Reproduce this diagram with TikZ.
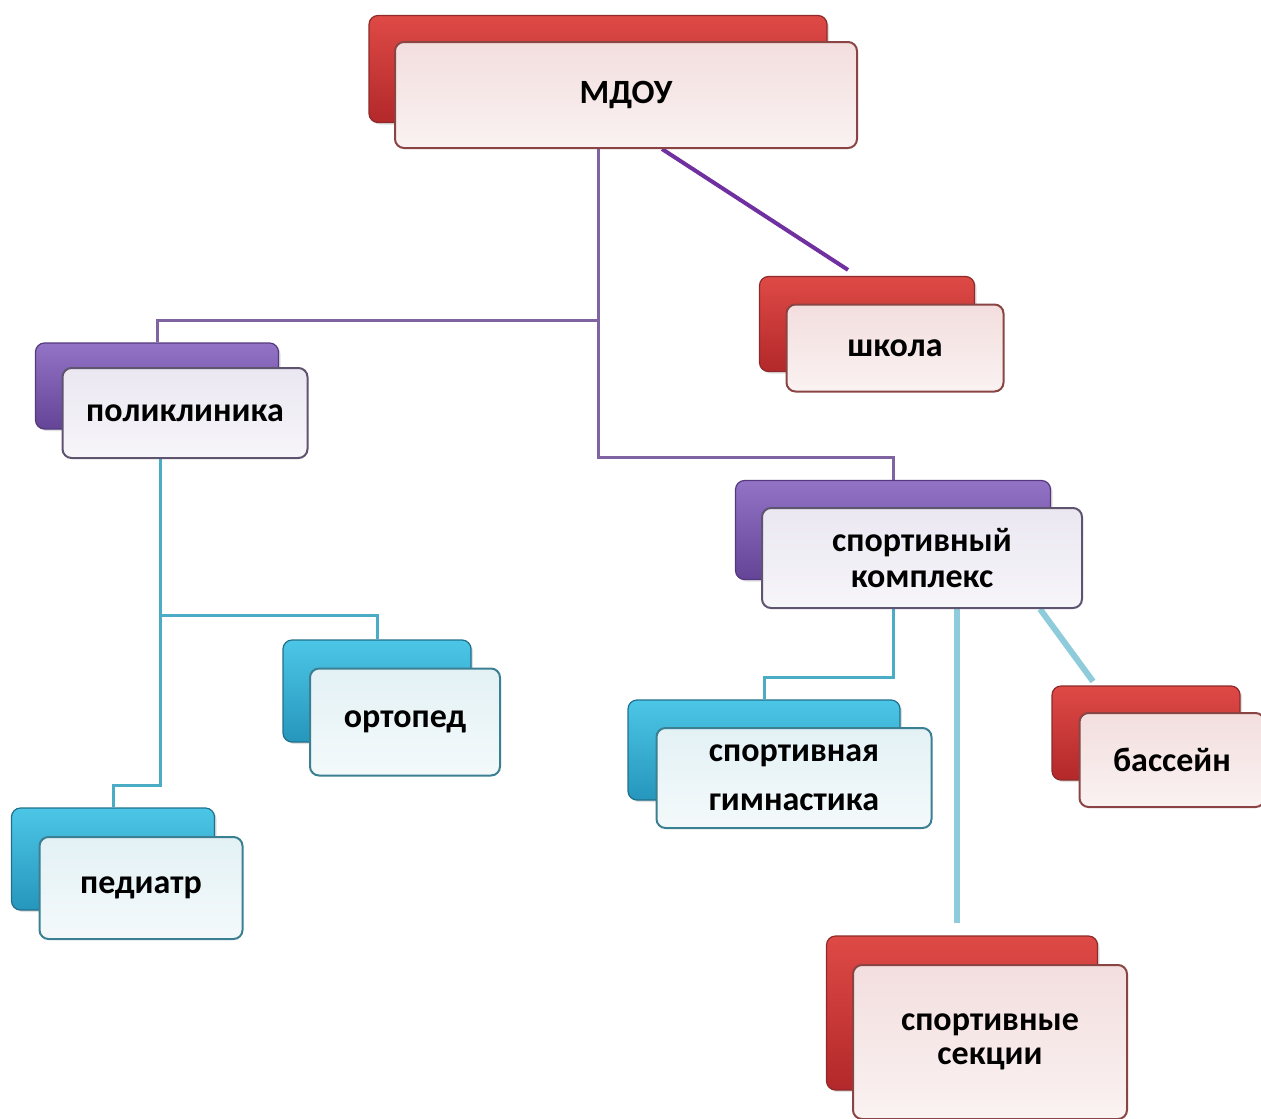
\documentclass[tikz,border=0pt]{standalone}
\usepackage{fontspec}
\setmainfont{Carlito}
\usetikzlibrary{shapes,backgrounds,shadows}

\definecolor{redtop}{HTML}{DE4A46}
\definecolor{redbot}{HTML}{B3282A}
\definecolor{redline}{HTML}{8E2A2A}
\definecolor{redfront}{HTML}{F3DEDE}
\definecolor{rededge}{HTML}{8A4444}
\definecolor{violtop}{HTML}{9373C6}
\definecolor{violbot}{HTML}{644496}
\definecolor{violline}{HTML}{54397F}
\definecolor{violfront}{HTML}{EAE7F1}
\definecolor{violedge}{HTML}{5E5470}
\definecolor{cyantop}{HTML}{4CC6E6}
\definecolor{cyanbot}{HTML}{2696BC}
\definecolor{cyanline}{HTML}{20708C}
\definecolor{cyanfront}{HTML}{E3F1F5}
\definecolor{cyanedge}{HTML}{3A7F92}
\definecolor{lavender}{HTML}{8064A2}
\definecolor{plum}{HTML}{7030A0}
\definecolor{teal}{HTML}{4BACC6}
\definecolor{skyline}{HTML}{8ECCDB}

\begin{document}
\begin{tikzpicture}[x=1pt,y=-1pt]
\tikzstyle{backbox}=[
	rectangle,
	rounded corners=9pt,
	inner sep=0pt,
	line width=1.2pt,
	drop shadow={shadow xshift=2pt,shadow yshift=-2pt,opacity=0.25} ]
\tikzstyle{frontbox}=[
	rectangle,
	rounded corners=9pt,
	inner sep=0pt,
	line width=2pt,
	align=center,
	font=\fontsize{34}{40}\selectfont\bfseries ]
\tikzstyle{redb}=[backbox, top color=redtop, bottom color=redbot, draw=redline]
\tikzstyle{violb}=[backbox, top color=violtop, bottom color=violbot, draw=violline]
\tikzstyle{cyanb}=[backbox, top color=cyantop, bottom color=cyanbot, draw=cyanline]
\tikzstyle{redf}=[frontbox, top color=redfront, bottom color=white!60!redfront, draw=rededge]
\tikzstyle{violf}=[frontbox, top color=violfront, bottom color=white!60!violfront, draw=violedge]
\tikzstyle{cyanf}=[frontbox, top color=cyanfront, bottom color=white!60!cyanfront, draw=cyanedge]
\tikzstyle{elbow}=[line width=3pt]

\useasboundingbox (0,0) rectangle (1261,1119);

% top
\node[redb, minimum width=458pt, minimum height=107pt] (mdou-b) at (598,69) {};
\node[redf, minimum width=462pt, minimum height=106pt] (mdou) at (626,95) {МДОУ};

% second row
\node[redb, minimum width=215pt, minimum height=95pt] (shkola-b) at (867,324) {};
\node[redf, minimum width=217pt, minimum height=87pt] (shkola) at (895,348) {школа};

\node[violb, minimum width=243pt, minimum height=86pt] (polikl-b) at (157,386) {};
\node[violf, minimum width=245pt, minimum height=90pt] (polikl) at (185,413) {поликлиника};

\node[violb, minimum width=315pt, minimum height=99pt] (sport-b) at (893,530) {};
\node[violf, minimum width=320pt, minimum height=100pt] (sport) at (922,558)
	{спортивный\\[-4pt]комплекс};

% leaves
\node[cyanb, minimum width=188pt, minimum height=102pt] (ortoped-b) at (377,691) {};
\node[cyanf, minimum width=190pt, minimum height=107pt] (ortoped) at (405,722) {ортопед};

\node[cyanb, minimum width=203pt, minimum height=102pt] (pediatr-b) at (113,859) {};
\node[cyanf, minimum width=203pt, minimum height=102pt] (pediatr) at (141,888) {педиатр};

\node[cyanb, minimum width=272pt, minimum height=100pt] (gimn-b) at (764,750) {};
\node[cyanf, minimum width=275pt, minimum height=100pt] (gimn) at (794,778)
	{спортивная\\[9pt]гимнастика};

\node[redb, minimum width=188pt, minimum height=94pt] (bassein-b) at (1146,733) {};
\node[redf, minimum width=185pt, minimum height=94pt] (bassein) at (1172,760) {бассейн};

\node[redb, minimum width=271pt, minimum height=154pt] (sekcii-b) at (962,1013) {};
\node[redf, minimum width=274pt, minimum height=154pt] (sekcii) at (990,1042)
	{спортивные\\[-6pt]секции};

\coordinate (j1) at (598,320);
\coordinate (j2) at (598,457);
\coordinate (k1) at (160,615);
\coordinate (k2) at (160,785);
\coordinate (m1) at (893,677);

\begin{scope}[on background layer]
\draw[elbow, lavender] (mdou.south -| j1) -- (j1) -| (polikl-b.north);
\draw[elbow, lavender] (j1) -- (j2) -| (sport-b.north);
\draw[line width=4pt, plum] ([xshift=36pt]mdou.south) -- ([xshift=-19pt,yshift=6pt]shkola-b.north);
\draw[elbow, teal] (polikl.south -| k1) -- (k1) -| (ortoped-b.north);
\draw[elbow, teal] (k1) -- (k2) -| (pediatr-b.north);
\draw[elbow, teal] (sport.south -| m1) -- (m1) -| (gimn-b.north);
\draw[line width=6pt, skyline] (sport.south -| 957,0) -- ([xshift=-5pt,yshift=12pt]sekcii-b.north);
\draw[line width=6pt, skyline] ([xshift=118pt]sport.south) -- ([xshift=-53pt,yshift=4pt]bassein-b.north);
\end{scope}
\end{tikzpicture}
\end{document}
